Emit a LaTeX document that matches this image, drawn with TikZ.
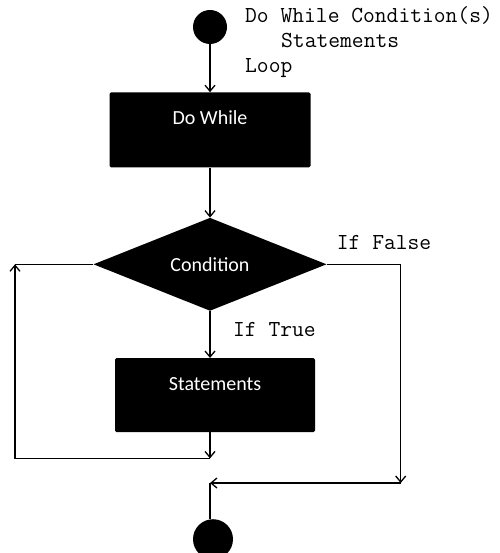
\documentclass[tikz,border=0pt]{standalone}
\usepackage{fontspec}
\setsansfont{Carlito}
\usetikzlibrary{positioning,shapes.geometric,arrows.meta}

\begin{document}
\begin{tikzpicture}[
    x=1pt, y=-1pt,
    terminal/.style={circle, fill=black, minimum size=34pt, inner sep=0pt},
    process/.style={rectangle, rounded corners=1.5pt, fill=black, text=white, minimum width=201pt,
                    inner xsep=0pt, inner ysep=0pt, font=\sffamily\fontsize{20}{22}\selectfont},
    decision/.style={diamond, fill=black, text=white, aspect=2.5, minimum width=233pt, minimum height=93pt,
                     inner sep=0pt, font=\sffamily\fontsize{20}{22}\selectfont},
    code/.style={font=\ttfamily\fontsize{22.9}{25}\selectfont, align=left, inner sep=0pt},
    arr/.style={-{Straight Barb[length=6pt,width=10pt,line width=1.3pt]}, line width=1.1pt},
    wire/.style={line width=1.1pt},
    node distance=48pt,
]
\useasboundingbox (0,0) rectangle (499,553);

\node[terminal] (start) at (210,27) {};
\node[process, below=of start, text height=32pt, text depth=43pt] (dowhile) {Do While};
\node[decision, below=50pt of dowhile] (cond) {Condition};
\node[process, below=47pt of cond, xshift=5pt, minimum width=200pt, text height=32pt, text depth=42pt] (stmt) {Statements};

% bends of the two loops
\coordinate[below=26pt of cond.south |- stmt.south] (back);
\coordinate (backleft) at (15,0 |- back);
\coordinate (backup) at (backleft |- cond.west);
\coordinate[right=74pt of cond.east] (out);
\coordinate (outdown) at (out |- 0,483);
\coordinate (join) at (cond.south |- outdown);
\node[terminal, minimum size=40pt, below=36pt of join, xshift=3pt] (stop) {};

\draw[arr] (start) -- (dowhile);
\draw[arr] (dowhile) -- (cond);
\draw[arr] (cond.south) -- (cond.south |- stmt.north);
\draw[arr] (cond.south |- stmt.south) -- (back);
\draw[arr] (back) -- (backleft) -- (backup);
\draw[wire] (backup) -- (cond.west);
\draw[arr] (cond.east) -- (out) -- (outdown);
\draw[arr] (outdown) -- (join);
\draw[wire] (join) -- (join |- stop.north);

\node[code, anchor=north west] (syntax) at (245,6) {Do While Condition(s)\\\hspace*{36pt}Statements\\Loop};
\node[code, anchor=west] (iffalse) at ([xshift=10pt,yshift=22pt]cond.east) {If False};
\node[code, anchor=west] (iftrue) at ([xshift=23pt,yshift=-19pt]cond.south) {If True};
\end{tikzpicture}
\end{document}
